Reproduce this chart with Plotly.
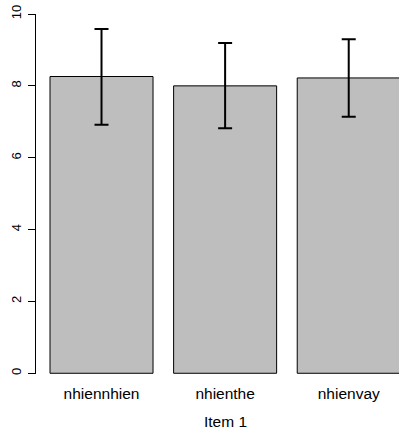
import plotly.graph_objects as go

categories = ["nhiennhien", "nhienthe", "nhienvay"]
means = [8.26, 8.00, 8.22]
err_up = [1.32, 1.19, 1.08]
err_down = [1.34, 1.18, 1.08]
positions = [0.7, 1.9, 3.1]
y_ticks = [0, 2, 4, 6, 8, 10]
x_title = "Item 1"

fig = go.Figure()
fig.add_trace(go.Bar(
    x=positions, y=means, width=1.0,
    marker=dict(color="#BEBEBE", line=dict(color="black", width=1)),
    error_y=dict(type="data", symmetric=False, array=err_up, arrayminus=err_down,
                 color="black", thickness=2, width=7),
    hoverinfo="skip",
))

fig.update_layout(
    width=399, height=432,
    margin=dict(l=36, r=0, t=14, b=58),
    paper_bgcolor="white", plot_bgcolor="white",
    showlegend=False,
    font=dict(family="Liberation Sans, Arial, sans-serif", color="black"),
    xaxis=dict(range=[0.064, 3.588], tickvals=positions, ticktext=categories,
               showgrid=False, zeroline=False, showline=False, ticks="",
               tickfont=dict(size=15.5), ticklabelstandoff=8),
    yaxis=dict(range=[-0.02, 10], tickvals=y_ticks, showgrid=False, zeroline=False,
               showline=True, linecolor="black", linewidth=1,
               ticks="outside", ticklen=7, tickcolor="black", tickwidth=1,
               tickangle=-90, tickfont=dict(size=13), ticklabelstandoff=2),
    annotations=[dict(text=x_title, x=1.9, xref="x", y=-0.1325, yref="paper",
                      yanchor="middle", xanchor="center", showarrow=False,
                      font=dict(size=15.5))],
)

fig.write_html(
    "out.html",
    config={"displayModeBar": False},
    post_script="document.body.style.margin='0';document.body.style.padding='0';document.body.style.overflow='hidden';",
)
